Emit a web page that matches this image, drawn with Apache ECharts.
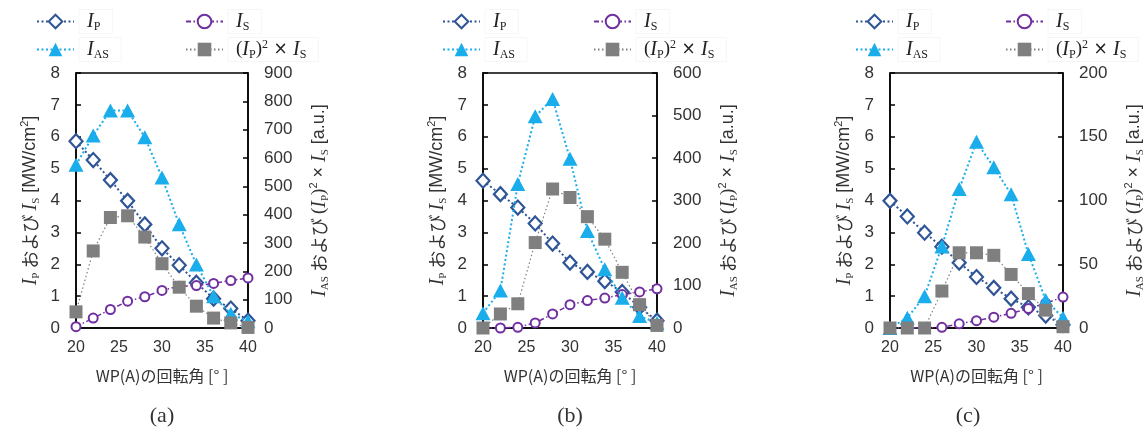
<!DOCTYPE html>
<html>
<head>
<meta charset="utf-8">
<script src="https://cdn.jsdelivr.net/npm/echarts@6/dist/echarts.min.js"></script>
<style>
html,body{margin:0;padding:0;background:#fff;}
#chart{width:1148px;height:428px;}
</style>
</head>
<body>
<div id="chart"></div>
<script>
// ---------- data ----------
const angles = [20, 22, 24, 26, 28, 30, 32, 34, 36, 38, 40];
const xTicks = [20, 25, 30, 35, 40];
const panelCaptions = ['(a)', '(b)', '(c)'];
const rightAxisMax = [900, 600, 200];
const rightAxisInterval = [100, 100, 50];

// panel (a)
const ipA  = [5.86, 5.27, 4.64, 3.99, 3.25, 2.50, 1.97, 1.42, 0.92, 0.61, 0.23];
const isA  = [0.04, 0.31, 0.58, 0.84, 0.98, 1.18, 1.31, 1.33, 1.40, 1.49, 1.57];
const iasA = [576, 679, 768, 768, 673, 531, 366, 224, 112, 50, 24];
const sqA  = [57, 272, 390, 396, 321, 227, 144, 77, 35, 18, 2];
// panel (b)
const ipB  = [4.62, 4.20, 3.78, 3.28, 2.65, 2.05, 1.76, 1.47, 1.13, 0.65, 0.23];
const isB  = [0.00, 0.00, 0.02, 0.16, 0.44, 0.73, 0.86, 0.94, 1.05, 1.13, 1.23];
const iasB = [35, 88, 339, 498, 539, 398, 228, 138, 71, 28, 12];
const sqB  = [0, 33, 57, 201, 327, 307, 262, 209, 131, 55, 6];
// panel (c)
const ipC  = [3.99, 3.50, 2.99, 2.55, 2.05, 1.60, 1.26, 0.92, 0.65, 0.39, 0.10];
const isC  = [0.00, 0.00, 0.00, 0.02, 0.13, 0.23, 0.34, 0.46, 0.61, 0.78, 0.97];
const iasC = [0, 8, 25, 64, 109, 146, 126, 105, 58, 22, 8];
const sqC  = [0, 0, 0, 29, 59, 59, 57, 42, 27, 14, 1];

const panels = [
  {ip: ipA, is: isA, ias: iasA, sq: sqA},
  {ip: ipB, is: isB, ias: iasB, sq: sqB},
  {ip: ipC, is: isC, ias: iasC, sq: sqC}
];

// ---------- layout / style ----------
const gridLefts = [76, 483, 890];
const gridWidths = [172, 174, 173];
const gridTop = 73, gridHeight = 255;
const captionX = [157, 565, 963];
const legendCol1 = [36, 442, 855];
const legendCol2 = [185, 593, 1005];

const C_IP = '#2F5597', C_IAS = '#1AADEB', C_IS = '#7030A0', C_SQ = '#7F7F7F';
const NAME_IP = 'IP', NAME_IAS = 'IAS', NAME_IS = 'IS', NAME_SQ = 'SQ';
const legendLabels = {
  IP: '{it|I}{sub|P}',
  IAS: '{it|I}{sub|AS}',
  IS: '{it|I}{sub|S}',
  SQ: '{rm|(}{it|I}{sub|P}{rm|)}{sup|2}{x| × }{it|I}{sub|S}'
};
const serif = 'Liberation Serif';
const richLegend = {
  it: {fontFamily: serif, fontStyle: 'italic', fontSize: 20, lineHeight: 22, color: '#222'},
  rm: {fontFamily: serif, fontSize: 19, lineHeight: 22, color: '#222'},
  x: {fontFamily: 'DejaVu Sans', fontSize: 17, lineHeight: 22, color: '#222'},
  sub: {fontFamily: serif, fontSize: 12, lineHeight: 11, verticalAlign: 'bottom', color: '#222'},
  sup: {fontFamily: serif, fontSize: 12, lineHeight: 11, verticalAlign: 'top', color: '#222'}
};
const richAxis = {
  it: {fontFamily: serif, fontStyle: 'italic', fontSize: 20, lineHeight: 23, color: '#333'},
  jp: {fontFamily: 'Noto Sans CJK JP', fontSize: 18, lineHeight: 23, color: '#333'},
  sn: {fontFamily: 'Liberation Sans', fontSize: 18, lineHeight: 23, color: '#333'},
  rm: {fontFamily: serif, fontSize: 19, lineHeight: 23, color: '#333'},
  sub: {fontFamily: serif, fontSize: 11, lineHeight: 11, verticalAlign: 'bottom', color: '#333'},
  sup: {fontFamily: 'Liberation Sans', fontSize: 11, lineHeight: 11, verticalAlign: 'top', color: '#333'}
};
const leftName = '{it|I}{sub|P}{jp| および }{it|I}{sub|S}{sn| [MW/cm}{sup|2}{sn|]}';
const rightName = '{it|I}{sub|AS}{jp| および }{rm|(}{it|I}{sub|P}{rm|)}{sup|2}{sn| × }{it|I}{sub|S}{sn| [a.u.]}';

const option = {
  backgroundColor: '#fff',
  animation: false,
  title: panelCaptions.map((t, i) => ({
    text: t, left: captionX[i], top: 400, textAlign: 'center',
    textStyle: {fontFamily: serif, fontSize: 22, fontWeight: 'normal', color: '#333'}
  })),
  legend: [],
  grid: [], xAxis: [], yAxis: [], series: []
};

for (let i = 0; i < 3; i++) {
  option.grid.push({left: gridLefts[i], top: gridTop, width: gridWidths[i], height: gridHeight,
    show: true, borderColor: '#000', borderWidth: 1.5, backgroundColor: 'transparent'});
  option.xAxis.push({
    type: 'value', gridIndex: i, min: xTicks[0], max: xTicks[xTicks.length - 1], interval: 5,
    axisLine: {show: true, lineStyle: {color: '#000', width: 1.5}},
    axisTick: {show: false}, splitLine: {show: false},
    axisLabel: {margin: 12, fontFamily: 'Liberation Sans', fontSize: 16, color: '#333'},
    name: 'WP(A)の回転角 [° ]', nameLocation: 'middle', nameGap: 40,
    nameTextStyle: {fontFamily: 'Noto Sans CJK JP', fontSize: 16, color: '#333'}
  });
  option.yAxis.push({
    type: 'value', gridIndex: i, min: 0, max: 8, interval: 1, position: 'left',
    axisLine: {show: true, lineStyle: {color: '#000', width: 1.5}},
    axisTick: {show: true, inside: true, length: 5, lineStyle: {color: '#000', width: 1.5}},
    splitLine: {show: false},
    axisLabel: {margin: 16, fontFamily: 'Liberation Sans', fontSize: 17, color: '#333'},
    name: leftName, nameLocation: 'middle', nameRotate: 90, nameGap: 34,
    nameTextStyle: {rich: richAxis}
  });
  option.yAxis.push({
    type: 'value', gridIndex: i, min: 0, max: rightAxisMax[i], interval: rightAxisInterval[i], position: 'right',
    axisLine: {show: true, lineStyle: {color: '#000', width: 1.5}},
    axisTick: {show: true, inside: true, length: 5, lineStyle: {color: '#000', width: 1.5}},
    splitLine: {show: false},
    axisLabel: {margin: 16, fontFamily: 'Liberation Sans', fontSize: 17, color: '#333'},
    name: rightName, nameLocation: 'middle', nameRotate: 90, nameGap: 60,
    nameTextStyle: {rich: richAxis}
  });

  const p = panels[i];
  const mk = (arr) => angles.map((a, k) => [a, arr[k]]);
  option.series.push(
    {name: NAME_IP, type: 'line', xAxisIndex: i, yAxisIndex: 2 * i, data: mk(p.ip), z: 2,
     symbol: 'diamond', symbolSize: [13, 14], showAllSymbol: true,
     lineStyle: {color: C_IP, width: 2, type: [2, 2.5]},
     itemStyle: {color: '#fff', borderColor: C_IP, borderWidth: 2.2}},
    {name: NAME_IS, type: 'line', xAxisIndex: i, yAxisIndex: 2 * i, data: mk(p.is), z: 3,
     symbol: 'circle', symbolSize: 9, showAllSymbol: true,
     lineStyle: {color: C_IS, width: 1.5, type: [5, 2.5, 1.5, 2.5]},
     itemStyle: {color: '#fff', borderColor: C_IS, borderWidth: 2}},
    {name: NAME_IAS, type: 'line', xAxisIndex: i, yAxisIndex: 2 * i + 1, data: mk(p.ias), z: 4,
     symbol: 'triangle', symbolSize: [15, 14], showAllSymbol: true,
     lineStyle: {color: C_IAS, width: 2, type: [2, 2.5]},
     itemStyle: {color: C_IAS, borderColor: C_IAS, borderWidth: 0}},
    {name: NAME_SQ, type: 'line', xAxisIndex: i, yAxisIndex: 2 * i + 1, data: mk(p.sq), z: 5,
     symbol: 'rect', symbolSize: 13, showAllSymbol: true,
     lineStyle: {color: C_SQ, width: 1.2, type: [1.5, 2.5]},
     itemStyle: {color: C_SQ, borderColor: C_SQ, borderWidth: 0}}
  );

  const legendCommon = {
    orient: 'vertical', top: 9, padding: 0, itemWidth: 37, itemHeight: 17, itemGap: 3,
    selectedMode: false,
    formatter: (n) => legendLabels[n],
    textStyle: {rich: richLegend, padding: [1, 12, 1, 8], borderColor: '#f6f6f6', borderWidth: 1}
  };
  option.legend.push(Object.assign({}, legendCommon, {left: legendCol1[i], data: [NAME_IP, NAME_IAS]}));
  option.legend.push(Object.assign({}, legendCommon, {left: legendCol2[i], data: [NAME_IS, NAME_SQ]}));
}

const chart = echarts.init(document.getElementById('chart'), null, {renderer: 'canvas'});
chart.setOption(option);
</script>
</body>
</html>
